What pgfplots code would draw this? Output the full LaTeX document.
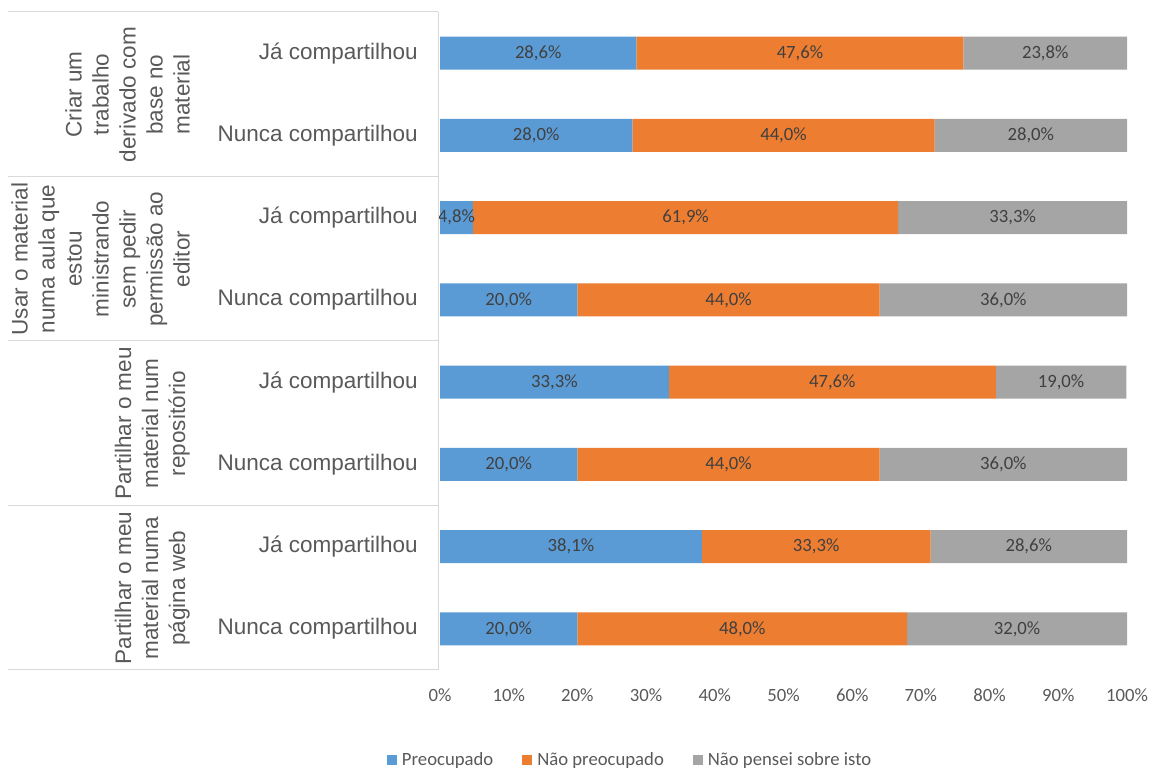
\documentclass[border=0pt]{standalone}
\usepackage{pgfplots}
\pgfplotsset{compat=1.18}
\usepackage{pgfplotstable}
\usepackage{fontspec}
\setmainfont{Liberation Sans}
\newfontfamily\calibri{Carlito}
\definecolor{cblue}{HTML}{5B9BD5}
\definecolor{corange}{HTML}{ED7D31}
\definecolor{cgray}{HTML}{A5A5A5}
\definecolor{txt}{HTML}{595959}
\definecolor{dtxt}{HTML}{404040}
\definecolor{sep}{HTML}{D9D9D9}

\pgfplotstableread{
y a b c la lb lc
0 28.6 47.6 23.8 28,6 47,6 23,8
1 28.0 44.0 28.0 28,0 44,0 28,0
2 4.8 61.9 33.3 4,8 61,9 33,3
3 20.0 44.0 36.0 20,0 44,0 36,0
4 33.3 47.6 19.0 33,3 47,6 19,0
5 20.0 44.0 36.0 20,0 44,0 36,0
6 38.1 33.3 28.6 38,1 33,3 28,6
7 20.0 48.0 32.0 20,0 48,0 32,0
}\data

\pgfplotsset{common/.style={
  at={(440pt,99pt)}, anchor=south west,
  scale only axis, width=687pt, height=658pt,
  xmin=0, xmax=100, ymin=-0.5, ymax=7.5, y dir=reverse,
  enlargelimits=false, clip=false}}

\begin{document}
\begin{tikzpicture}
\useasboundingbox (0,0) rectangle (1152pt,769pt);
\begin{axis}[common,
  xbar stacked, bar width=33pt,
  axis line style={draw=none},
  major tick length=0pt,
  xtick={0,10,...,100},
  xticklabels={0\%,10\%,20\%,30\%,40\%,50\%,60\%,70\%,80\%,90\%,100\%},
  xticklabel style={font=\calibri\fontsize{18.7}{22}\selectfont, text=txt, anchor=north, inner sep=0pt, yshift=-19pt},
  ytick={0,...,7},
  yticklabels={Já compartilhou,Nunca compartilhou,Já compartilhou,Nunca compartilhou,Já compartilhou,Nunca compartilhou,Já compartilhou,Nunca compartilhou},
  yticklabel style={font=\fontsize{22.5}{27}\selectfont, text=txt, anchor=east, inner sep=0pt, xshift=-22pt},
  legend columns=3,
  legend image code/.code={\fill[#1] (0pt,-5pt) rectangle (10pt,5pt);},
  legend style={at={(axis description cs:-0.07715,-0.1368)}, anchor=west, draw=none, fill=none,
    inner sep=0pt, outer sep=0pt,
    font=\calibri\fontsize{18.7}{22}\selectfont, text=txt,
    nodes={inner sep=0pt},
    /tikz/every odd column/.append style={column sep=5pt},
    /tikz/every even column/.append style={column sep=29pt}},
]
\addplot[fill=cblue, draw=none] table[x=a, y=y] {\data};
\addplot[fill=corange, draw=none] table[x=b, y=y] {\data};
\addplot[fill=cgray, draw=none] table[x=c, y=y] {\data};
\legend{Preocupado, Não preocupado, Não pensei sobre isto}
\end{axis}
\begin{axis}[common, hide axis,
  nodes near coords={\pgfplotspointmeta\%},
  point meta=explicit symbolic,
  every node near coord/.append style={font=\calibri\fontsize{18.7}{22}\selectfont, text=dtxt, anchor=center, inner sep=0pt},
]
\addplot[only marks, mark=none] table[x expr=\thisrow{a}/2, y=y, meta=la] {\data};
\addplot[only marks, mark=none] table[x expr=\thisrow{a}+\thisrow{b}/2, y=y, meta=lb] {\data};
\addplot[only marks, mark=none] table[x expr=\thisrow{a}+\thisrow{b}+\thisrow{c}/2, y=y, meta=lc] {\data};
\end{axis}
\foreach \yy in {757,592,428,263,99} {\draw[sep, line width=1pt] (8pt,\yy pt) -- (438pt,\yy pt);}
\draw[sep, line width=1pt] (438pt,99pt) -- (438pt,757pt);
\begin{scope}[every node/.style={rotate=90, anchor=south, align=center, inner sep=0pt, text=txt, font=\fontsize{22.5}{27}\selectfont}]
\node at (190pt,674.5pt) {Criar um\\trabalho\\derivado com\\base no\\material};
\node at (190pt,510pt) {Usar o material\\numa aula que\\estou\\ministrando\\sem pedir\\permissão ao\\editor};
\node at (190pt,345.5pt) {Partilhar o meu\\material num\\repositório};
\node at (190pt,181pt) {Partilhar o meu\\material numa\\página web};
\end{scope}
\end{tikzpicture}
\end{document}
